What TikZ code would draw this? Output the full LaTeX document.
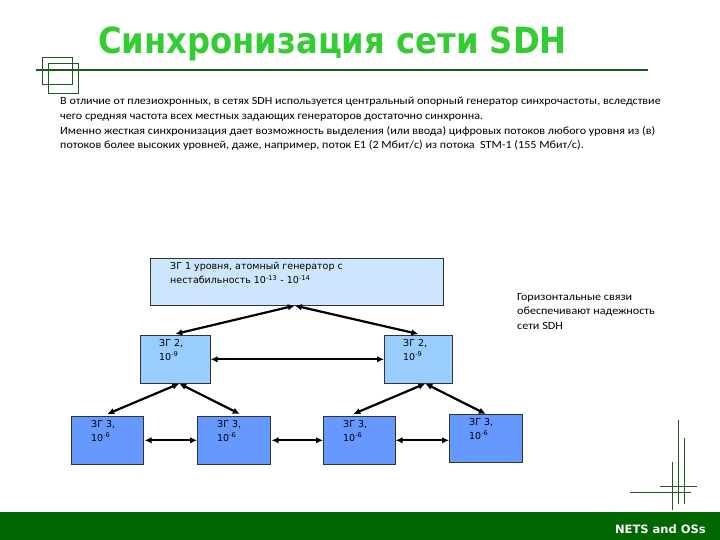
\documentclass[tikz,border=0pt]{standalone}
\usepackage{fontspec}
\setmainfont{Carlito}
\newfontfamily\bodyfont[FakeStretch=1.1]{Carlito}
\newfontfamily\titlefont[FakeStretch=0.895]{DejaVu Sans}
\newfontfamily\boxfont{DejaVu Sans}
\usetikzlibrary{arrows.meta}
\definecolor{titlegreen}{HTML}{33CC33}
\definecolor{dkgreen}{HTML}{1E5A1E}
\definecolor{bargreen}{HTML}{006600}
\definecolor{lvlone}{HTML}{CCE6FF}
\definecolor{lvltwo}{HTML}{99CCFF}
\definecolor{lvlthree}{HTML}{6699FF}
\tikzset{
  box/.style={draw=black!80, line width=0.6pt, anchor=north west, inner sep=0pt},
  boxtext/.style={anchor=north west, inner sep=0pt, align=left, font=\boxfont\fontsize{9.5}{14.5}\selectfont},
  link/.style={line width=2.2pt, {Latex[length=7pt,width=6.5pt]}-{Latex[length=7pt,width=6.5pt]}},
  deco/.style={dkgreen, line width=1pt},
  body/.style={anchor=base west, inner sep=0pt, font=\bodyfont\fontsize{11}{13}\selectfont}
}
\begin{document}
\begin{tikzpicture}[x=1pt,y=-1pt]
\useasboundingbox (0,0) rectangle (720,540);
% title
\node[anchor=base west, inner sep=0pt, text=titlegreen, font=\titlefont\bfseries\fontsize{36}{40}\selectfont] (title) at (98,54) {Синхронизация сети SDH};
% decoration top left
\draw[dkgreen, line width=1.6pt] (36,70) -- (648,70);
\draw[dkgreen, line width=0.8pt] (42,57) rectangle (72,84);
\draw[dkgreen, line width=0.8pt] (48,63) rectangle (78,93);
% body text
\node[body] (p1) at (60,105) {В отличие от плезиохронных, в сетях SDH используется центральный опорный генератор синхрочастоты, вследствие};
\node[body] (p2) at (60,120) {чего средняя частота всех местных задающих генераторов достаточно синхронна.};
\node[body] (p3) at (60,135) {Именно жесткая синхронизация дает возможность выделения (или ввода) цифровых потоков любого уровня из (в)};
\node[body] (p4) at (60,149) {потоков более высоких уровней, даже, например, поток E1 (2 Мбит/с) из потока\ \ STM-1 (155 Мбит/с).};
% boxes
\node[box, fill=lvlone, minimum width=293pt, minimum height=47pt] (top) at (150,258) {};
\node[boxtext] (toptext) at (170,262) {ЗГ 1 уровня, атомный генератор с\\нестабильность 10\textsuperscript{-13} - 10\textsuperscript{-14}};
\node[box, fill=lvltwo, minimum width=70pt, minimum height=48pt] (l2a) at (140,335) {};
\node[box, fill=lvltwo, minimum width=68pt, minimum height=48pt] (l2b) at (384,335) {};
\node[boxtext] (l2atext) at (159,339) {ЗГ 2,\\10\textsuperscript{-9}};
\node[boxtext] (l2btext) at (403,339) {ЗГ 2,\\10\textsuperscript{-9}};
\node[box, fill=lvlthree, minimum width=72pt, minimum height=48pt] (l3a) at (71,416) {};
\node[box, fill=lvlthree, minimum width=73pt, minimum height=48pt] (l3b) at (197,416) {};
\node[box, fill=lvlthree, minimum width=72pt, minimum height=48pt] (l3c) at (323,416) {};
\node[box, fill=lvlthree, minimum width=73pt, minimum height=48pt] (l3d) at (449,414) {};
\node[boxtext] (l3atext) at (91,420) {ЗГ 3,\\10\textsuperscript{-6}};
\node[boxtext] (l3btext) at (217,420) {ЗГ 3,\\10\textsuperscript{-6}};
\node[boxtext] (l3ctext) at (343,420) {ЗГ 3,\\10\textsuperscript{-6}};
\node[boxtext] (l3dtext) at (469,418) {ЗГ 3,\\10\textsuperscript{-6}};
% side note
\node[anchor=north west, inner sep=0pt, align=left, font=\bodyfont\fontsize{11}{14.6}\selectfont] (note) at (517,293) {Горизонтальные связи\\обеспечивают надежность\\сети SDH};
% connectors
\draw[link] ([xshift=-2pt]top.south) -- ([yshift=1pt]l2a.north);
\draw[link] ([xshift=-2pt]top.south) -- ([yshift=1pt]l2b.north);
\draw[link] (l2a.east) -- (l2b.west);
\draw[link] ([xshift=4pt]l2a.south) -- ([yshift=2pt]l3a.north);
\draw[link] ([xshift=4pt]l2a.south) -- ([xshift=6pt,yshift=2pt]l3b.north);
\draw[link] ([xshift=7pt]l2b.south) -- ([xshift=-6pt,yshift=2pt]l3c.north);
\draw[link] ([xshift=7pt]l2b.south) -- ([yshift=0pt]l3d.north);
\draw[link] ([xshift=1pt]l3a.east) -- (l3b.west);
\draw[link] ([xshift=1pt]l3b.east) -- (l3c.west);
\draw[link] (l3c.east) -- (l3c.east -| l3d.west);
% decoration bottom right
\draw[deco] (678,420) -- (678,504);
\draw[deco] (684,438) -- (684,504);
\draw[deco] (672,462) -- (672,510);
\draw[deco] (660,486) -- (697,486);
\draw[deco] (630,492) -- (691,492);
% bottom bar
\fill[bargreen] (0,512) rectangle (720,540);
\node[anchor=base east, inner sep=0pt, text=white, font=\boxfont\bfseries\fontsize{11.5}{13}\selectfont] (footer) at (706,533) {NETS and OSs};
\end{tikzpicture}
\end{document}
